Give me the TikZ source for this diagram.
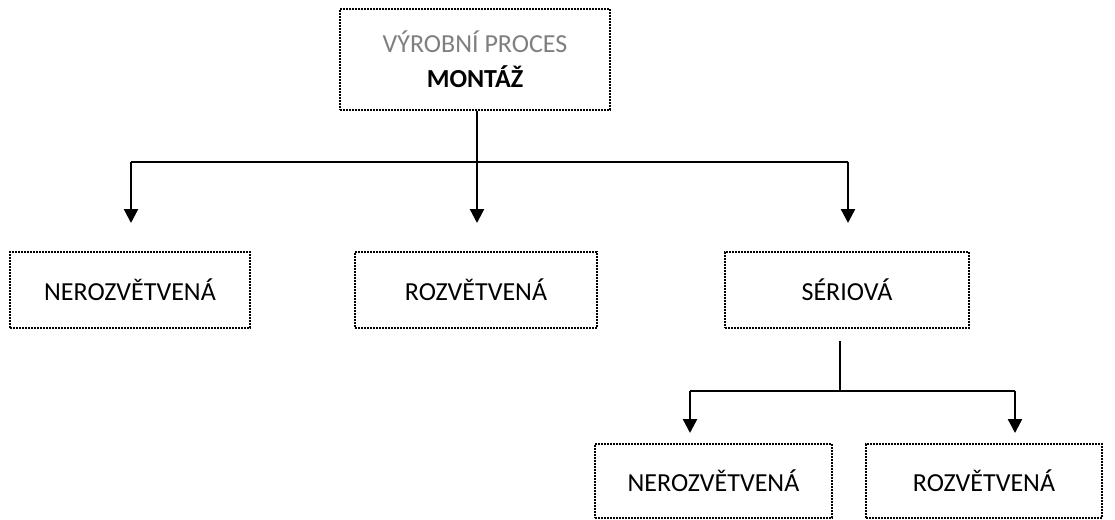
\documentclass[tikz,border=0pt]{standalone}
\usepackage{fontspec}
\setmainfont{Carlito}
\usetikzlibrary{arrows.meta}
\definecolor{headgray}{HTML}{7F7F7F}
\tikzset{
  dotbox/.style={draw, line width=1.8pt, dash pattern=on 1.6pt off 1.4pt,
    rectangle, align=center, inner sep=0pt, font=\fontsize{26}{35}\selectfont},
  link/.style={line width=2.4pt},
  arr/.style={line width=2.4pt, -{Triangle[length=14pt,width=14pt]}}
}
\begin{document}
\begin{tikzpicture}[x=1pt,y=-1pt]
\useasboundingbox (0,0) rectangle (1115,519);
% boxes
\node[dotbox, minimum width=270pt, minimum height=101pt] (top) at (475,59.5)
  {\textcolor{headgray}{VÝROBNÍ PROCES}\\\textbf{MONTÁŽ}};
\node[dotbox, minimum width=240pt, minimum height=76pt] (ner) at (130,290) {NEROZVĚTVENÁ};
\node[dotbox, minimum width=242pt, minimum height=76pt] (roz) at (476,290) {ROZVĚTVENÁ};
\node[dotbox, minimum width=244pt, minimum height=76pt] (ser) at (847,290) {SÉRIOVÁ};
\node[dotbox, minimum width=237pt, minimum height=74pt] (ner2) at (713.5,481) {NEROZVĚTVENÁ};
\node[dotbox, minimum width=236pt, minimum height=74pt] (roz2) at (984,481) {ROZVĚTVENÁ};
% first level connectors
\coordinate (barL) at (131,162);
\coordinate (barR) at (848,162);
\coordinate (tipA) at (131,223);
\coordinate (tipB) at (477,223);
\coordinate (tipC) at (848,223);
\draw[link] (top.south -| tipB) -- (tipB |- barL);
\draw[link] (barL) -- (barR);
\draw[arr] (barL) -- (tipA);
\draw[arr] (tipB |- barL) -- (tipB);
\draw[arr] (barR) -- (tipC);
% second level connectors
\coordinate (stem) at (840,341);
\coordinate (subL) at (690,391);
\coordinate (subR) at (1015,391);
\coordinate (tipD) at (690,433);
\coordinate (tipE) at (1015,433);
\draw[link] (stem) -- (stem |- subL);
\draw[link] (subL) -- (subR);
\draw[arr] (subL) -- (tipD);
\draw[arr] (subR) -- (tipE);
\end{tikzpicture}
\end{document}
